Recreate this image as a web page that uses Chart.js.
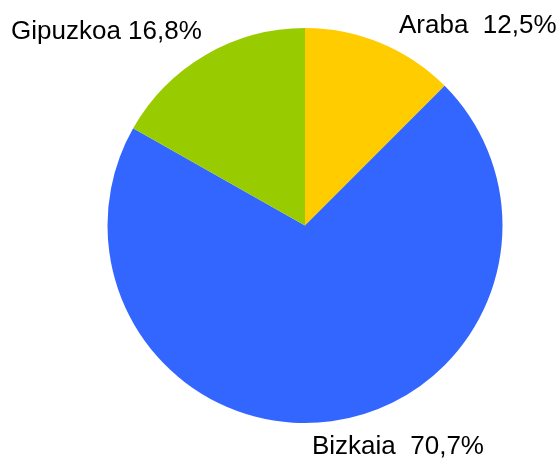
<!DOCTYPE html>
<html>
<head>
<meta charset="utf-8">
<script src="https://cdn.jsdelivr.net/npm/chart.js@4"></script>
<style>
  html, body { margin: 0; padding: 0; background: #fff; }
  #wrap { width: 557px; height: 459px; }
</style>
</head>
<body>
<div id="wrap"><canvas id="pie" width="557" height="459"></canvas></div>
<script>
const labels = ["Araba", "Bizkaia", "Gipuzkoa"];
const values = [12.5, 70.7, 16.8];
const colors = ["#ffcc00", "#3366ff", "#99cc00"];
const labelText = ["Araba  12,5%", "Bizkaia  70,7%", "Gipuzkoa 16,8%"];
// where each label sits (left x, middle y)
const labelPos = [[399, 26], [312, 447], [11, 32]];

const outsideLabels = {
  id: "outsideLabels",
  afterDraw(chart) {
    const ctx = chart.ctx;
    ctx.save();
    ctx.font = "26px 'Liberation Sans', Arial, sans-serif";
    ctx.fillStyle = "#000";
    ctx.textAlign = "left";
    ctx.textBaseline = "middle";
    labelText.forEach((t, i) => {
      ctx.fillText(t, labelPos[i][0], labelPos[i][1]);
    });
    ctx.restore();
  },
};

new Chart(document.getElementById("pie").getContext("2d"), {
  type: "pie",
  data: {
    labels: labels,
    datasets: [
      {
        data: values,
        backgroundColor: colors,
        borderWidth: 0,
      },
    ],
  },
  options: {
    responsive: false,
    animation: false,
    layout: { padding: { top: 28, bottom: 36, left: 107, right: 54 } },
    plugins: {
      legend: { display: false },
      tooltip: { enabled: false },
    },
  },
  plugins: [outsideLabels],
});
</script>
</body>
</html>
